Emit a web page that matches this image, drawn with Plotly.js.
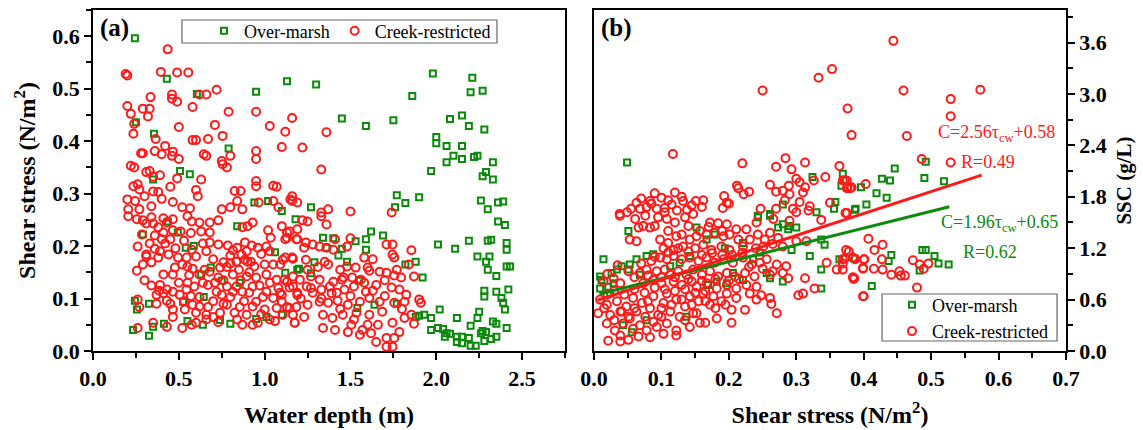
<!DOCTYPE html>
<html>
<head>
<meta charset="utf-8">
<script src="https://cdn.plot.ly/plotly-3.0.1.min.js"></script>
<style>html,body{margin:0;padding:0;background:#fff;}#chart{width:1143px;height:430px;}</style>
</head>
<body>
<div id="chart"></div>
<script>
// ---------------- DATA ----------------
const seriesNames = ["Over-marsh", "Creek-restricted"];

// Panel (a): [water depth (m), shear stress (N/m2)]
const aOverMarsh = [
[0.244,0.596],[0.43,0.519],[0.605,0.49],[0.95,0.494],[1.13,0.514],[0.25,0.436],[0.355,0.414],[0.79,0.386],[0.507,0.343],[0.564,0.337],[0.35,0.327],[0.94,0.283],[1.02,0.286],[1.10,0.267],
[1.30,0.508],[1.98,0.529],[2.21,0.521],[2.20,0.493],[2.27,0.496],[1.86,0.486],[1.45,0.443],[1.59,0.429],[1.75,0.44],[2.08,0.442],[2.15,0.449],[2.19,0.429],[2.28,0.422],[2.00,0.408],[2.00,0.396],[2.06,0.391],[2.15,0.391],[2.10,0.372],[2.06,0.36],[2.15,0.366],[2.22,0.37],[2.24,0.372],[2.33,0.36],[1.97,0.343],[2.29,0.341],[2.27,0.333],[2.33,0.327],[1.77,0.297],[1.90,0.293],[1.82,0.282],[1.76,0.274],[2.26,0.287],[2.30,0.27],[2.36,0.283],[2.39,0.285],[1.27,0.274],
[2.36,0.247],[2.40,0.24],[2.01,0.203],[2.11,0.195],[2.19,0.21],[2.30,0.21],[2.32,0.212],[2.41,0.206],[2.41,0.193],[2.24,0.18],[2.31,0.18],[2.29,0.17],[2.30,0.155],[2.35,0.143],[2.41,0.161],[2.43,0.161],[2.28,0.115],[2.28,0.104],[2.35,0.113],[2.42,0.117],[2.38,0.101],[2.39,0.092],[2.40,0.079],[2.25,0.075],[2.24,0.063],[2.02,0.079],[1.93,0.069],[1.90,0.067],[1.97,0.063],[2.20,0.048],[2.12,0.063],[1.97,0.04],[2.01,0.044],[2.04,0.042],[2.06,0.034],[2.05,0.027],[2.08,0.033],[2.12,0.027],[2.15,0.027],[2.12,0.017],[2.15,0.015],[2.19,0.025],[2.20,0.01],[2.23,0.01],[2.26,0.034],[2.28,0.019],[2.29,0.036],[2.33,0.056],[2.35,0.052],[2.41,0.044],[2.35,0.027],[2.32,0.023],[2.27,0.038],
[1.62,0.228],[1.69,0.22],[1.59,0.213],[1.53,0.209],[1.59,0.193],[1.45,0.195],[1.29,0.169],[1.43,0.182],[1.48,0.17],[1.82,0.165],[1.88,0.17],[1.92,0.14],[1.20,0.157],[1.27,0.148],[1.55,0.134],[1.64,0.088],[1.54,0.082],[1.77,0.09],[1.88,0.065],[1.34,0.216],[1.36,0.197],[1.40,0.215],
[0.244,0.096],[0.256,0.079],[0.233,0.04],[0.326,0.09],[0.326,0.029],[0.35,0.046],[0.413,0.052],[0.525,0.094],[0.54,0.197],[0.587,0.2],[0.494,0.226],[0.436,0.247],[0.29,0.222],[0.55,0.057],[0.645,0.103],[0.686,0.159],[0.63,0.146],[0.74,0.059],[0.80,0.052],[0.855,0.13],[0.75,0.134],[0.95,0.061],[1.01,0.065],[1.06,0.188],[0.84,0.238],[1.18,0.251],[1.12,0.149],[1.10,0.069],[1.19,0.155],[0.64,0.05]
];

const aCreek = [
[0.19,0.528],[0.20,0.525],[0.20,0.467],[0.22,0.452],[0.24,0.433],[0.235,0.414],[0.435,0.575],[0.395,0.532],[0.49,0.531],[0.555,0.531],[0.46,0.489],[0.46,0.481],[0.49,0.475],[0.62,0.489],[0.66,0.489],[0.72,0.498],[0.58,0.465],[0.29,0.462],[0.33,0.462],[0.335,0.484],[0.32,0.447],[0.50,0.427],[0.79,0.456],[0.71,0.431],[0.58,0.402],[0.60,0.402],[0.67,0.404],[0.755,0.41],[0.365,0.404],[0.42,0.391],[0.465,0.38],[0.50,0.366],[0.36,0.381],[0.40,0.375],[0.46,0.372],[0.28,0.377],[0.29,0.377],[0.645,0.375],[0.66,0.372],[0.75,0.362],[0.755,0.356],[0.78,0.35],[0.80,0.372],[0.22,0.353],[0.24,0.35],[0.31,0.341],[0.33,0.343],[0.39,0.335],[0.35,0.332],[0.49,0.329],[0.45,0.313],[0.63,0.327],[0.235,0.314],[0.26,0.318],[0.27,0.308],[0.30,0.295],[0.35,0.304],[0.38,0.303],[0.40,0.29],[0.465,0.284],[0.60,0.307],[0.61,0.295],[0.825,0.305],[0.86,0.305],[0.84,0.286],[0.20,0.289],[0.245,0.286],[0.205,0.27],[0.27,0.27],[0.34,0.276],[0.52,0.274],[0.565,0.272],[0.75,0.27],[0.80,0.274],[0.87,0.27],[0.95,0.381],[0.95,0.366],[0.95,0.324],[0.95,0.314],[1.03,0.429],[1.10,0.389],[1.12,0.418],[1.16,0.444],[1.05,0.315],[1.07,0.313],[1.05,0.286],[1.08,0.274],[1.16,0.295],[1.16,0.286],[1.19,0.283],[0.95,0.456],[0.965,0.283],
[1.22,0.388],[1.36,0.417],[1.33,0.346],[1.15,0.289],[1.33,0.264],[1.37,0.27],[1.50,0.266],[1.74,0.264],
[0.205,0.257],[0.255,0.251],[0.29,0.249],[0.34,0.255],[0.41,0.253],[0.43,0.245],[0.465,0.251],[0.35,0.243],[0.31,0.243],[0.55,0.257],[0.575,0.247],[0.62,0.245],[0.68,0.245],[0.73,0.249],[0.51,0.228],[0.41,0.226],[0.40,0.213],[0.45,0.213],[0.465,0.23],[0.285,0.222],[0.63,0.228],[0.68,0.226],[0.64,0.205],[0.68,0.207],[0.73,0.203],[0.785,0.201],[0.84,0.197],[0.865,0.184],[0.895,0.19],[0.885,0.207],[0.815,0.192],[0.80,0.182],[0.925,0.201],[0.96,0.197],[1.01,0.199],[1.02,0.23],[1.035,0.216],[1.12,0.213],[1.13,0.226],[1.19,0.213],[1.165,0.176],[1.105,0.174],[1.09,0.165],[1.05,0.165],[1.0,0.165],[0.94,0.161],[0.90,0.17],[0.885,0.174],[0.835,0.17],[0.80,0.167],[0.76,0.169],[0.74,0.159],[0.68,0.151],[0.65,0.155],[0.62,0.146],[0.58,0.157],[0.55,0.161],[0.52,0.165],[0.495,0.178],[0.44,0.184],[0.39,0.19],[0.38,0.178],[0.34,0.169],[0.29,0.165],[0.255,0.153],[0.26,0.199],[0.31,0.184],[0.31,0.18],[0.41,0.146],[0.465,0.146],[0.39,0.126],[0.385,0.115],[0.37,0.107],[0.43,0.117],[0.465,0.113],[0.505,0.107],[0.43,0.096],[0.45,0.09],[0.465,0.079],[0.465,0.065],[0.43,0.046],[0.35,0.054],[0.26,0.044],[0.26,0.098],[0.27,0.084],[0.52,0.044],[0.575,0.05],[0.60,0.054],[0.535,0.079],[0.58,0.088],[0.60,0.073],[0.67,0.084],[0.66,0.069],[0.70,0.065],[0.74,0.073],[0.78,0.088],[0.825,0.073],[0.855,0.084],[0.895,0.069],[0.93,0.05],[0.87,0.05],[0.96,0.054],[0.545,0.117],[0.55,0.13],[0.59,0.123],[0.62,0.103],[0.64,0.13],[0.67,0.126],[0.72,0.113],[0.75,0.107],[0.78,0.123],[0.80,0.103],[0.815,0.113],[0.835,0.123],[0.87,0.113],[0.91,0.111],[0.93,0.123],[0.95,0.094],[0.99,0.103],[1.01,0.113],[1.05,0.101],[1.07,0.082],[1.09,0.111],[1.10,0.094],[1.145,0.082],[1.175,0.054],[1.06,0.057],[1.0,0.079],[0.73,0.14],[0.815,0.146],[0.895,0.142],[0.95,0.14],[1.01,0.146],[1.07,0.136],[1.13,0.132],[1.165,0.123],[1.19,0.107],[0.575,0.193],[0.545,0.178],[0.477,0.159],[0.90,0.238],[0.93,0.245],[0.87,0.236],[1.19,0.232],
[1.10,0.238],[1.145,0.228],[1.13,0.216],[1.185,0.213],[1.25,0.247],[1.22,0.249],[1.33,0.257],[1.36,0.241],[1.24,0.207],[1.28,0.203],[1.23,0.197],[1.32,0.199],[1.36,0.197],[1.41,0.213],[1.50,0.215],[1.40,0.193],[1.48,0.199],[1.16,0.178],[1.12,0.178],[1.24,0.174],[1.35,0.17],[1.37,0.165],[1.48,0.161],[1.53,0.159],[1.60,0.159],[1.58,0.178],[1.71,0.203],[1.745,0.203],[1.855,0.192],[1.745,0.184],[1.755,0.178],[1.84,0.165],[1.61,0.153],[1.67,0.151],[1.71,0.149],[1.755,0.144],[1.795,0.14],[1.87,0.142],[1.51,0.14],[1.56,0.136],[1.45,0.136],[1.40,0.132],[1.32,0.136],[1.27,0.142],[1.205,0.136],[1.165,0.142],[1.115,0.136],[1.10,0.107],[1.145,0.121],[1.19,0.111],[1.245,0.123],[1.28,0.111],[1.33,0.117],[1.38,0.123],[1.42,0.111],[1.465,0.117],[1.52,0.123],[1.59,0.113],[1.65,0.126],[1.74,0.121],[1.785,0.117],[1.825,0.107],[1.90,0.098],[1.91,0.092],[1.815,0.094],[1.755,0.092],[1.67,0.094],[1.61,0.101],[1.555,0.094],[1.485,0.088],[1.425,0.096],[1.37,0.092],[1.32,0.094],[1.25,0.088],[1.185,0.084],[1.13,0.084],[1.105,0.069],[1.165,0.069],[1.23,0.065],[1.34,0.069],[1.395,0.063],[1.455,0.069],[1.535,0.073],[1.61,0.069],[1.685,0.075],[1.745,0.054],[1.815,0.063],[1.87,0.052],[1.855,0.069],[1.175,0.054],[1.34,0.044],[1.41,0.04],[1.485,0.036],[1.555,0.031],[1.62,0.034],[1.65,0.017],[1.71,0.025],[1.755,0.025],[1.71,0.008],[1.745,0.008],[1.785,0.036],[1.505,0.05],[1.60,0.05],[1.57,0.04],
[0.36,0.22],[0.38,0.236],[0.33,0.205],[0.36,0.195],[0.42,0.205],[0.48,0.196],[0.53,0.21],[0.57,0.225],[0.60,0.18],[0.66,0.19],[0.70,0.175],[0.78,0.16],[0.85,0.155],[0.92,0.17],[0.98,0.185],[1.03,0.19],[0.71,0.13],[0.76,0.135],[0.86,0.135],[0.91,0.15],[0.97,0.125],[1.03,0.13],[1.08,0.12],[0.56,0.145],[0.50,0.13],[0.53,0.095],[0.57,0.105],[0.62,0.085],[0.70,0.095],[0.76,0.09],[0.88,0.095],[0.93,0.085],[0.98,0.07],[1.03,0.06],[0.84,0.06],[0.73,0.055],[0.66,0.06],[0.30,0.135],[0.34,0.125],[0.41,0.11],[0.37,0.09],[1.25,0.155],[1.31,0.16],[1.44,0.155],[1.50,0.105],[1.58,0.13],[1.63,0.115],[1.70,0.135],[1.70,0.105],[1.77,0.155],[1.63,0.175],[1.44,0.08],[1.52,0.06],[1.66,0.05],[1.80,0.08],[1.27,0.12],[1.21,0.1],[1.33,0.1],[1.39,0.11],[1.46,0.14]
];

// Panel (b): [shear stress (N/m2), SSC (g/L)]
const bOverMarsh = [
[0.049,2.2],[0.324,2.03],[0.369,2.07],[0.367,1.93],[0.396,1.91],[0.358,1.74],[0.356,1.66],[0.388,1.66],[0.404,1.71],[0.28,1.71],[0.261,1.6],[0.33,1.62],[0.243,1.58],
[0.492,2.21],[0.446,2.13],[0.427,2.01],[0.439,1.99],[0.49,2.02],[0.519,1.98],[0.419,1.84],[0.434,1.79],[0.387,1.65],
[0.487,1.18],[0.492,1.18],[0.505,1.11],[0.511,1.02],[0.526,1.01],[0.441,1.12],[0.437,1.05],[0.483,0.94],[0.412,0.76],[0.387,1.08],
[0.051,1.40],[0.014,1.07],[0.009,0.87],[0.009,0.73],[0.021,0.75],[0.026,0.91],[0.034,0.95],[0.041,0.99],[0.051,0.95],[0.053,1.01],[0.063,1.07],[0.068,0.89],[0.078,1.11],[0.088,1.13],[0.029,0.79],[0.011,0.83],[0.152,1.44],[0.167,1.30],[0.179,1.36],[0.194,1.20],[0.221,1.26],[0.236,1.07],[0.246,1.15],[0.243,1.56],[0.261,1.58],[0.273,1.44],[0.28,1.48],[0.288,1.42],[0.29,1.46],[0.30,1.44],[0.293,1.18],[0.32,1.11],[0.337,1.30],[0.342,1.24],[0.364,1.07],[0.337,0.95],[0.261,0.85],[0.28,0.81],[0.256,0.91],[0.221,0.83],[0.206,0.91],[0.197,0.79],[0.182,0.81],[0.169,0.77],[0.337,0.73],[0.056,0.22],[0.043,0.30],[0.137,0.40],[0.078,0.36],[0.024,0.67],[0.127,1.03],[0.113,0.99],[0.142,1.11]
];

const bCreek = [
[0.25,3.04],[0.333,3.19],[0.353,3.29],[0.376,2.83],[0.382,2.52],[0.117,2.30],[0.22,2.19],[0.27,2.15],[0.284,2.25],[0.293,2.12],[0.313,2.20],[0.364,2.16],[0.343,2.03],[0.326,1.99],[0.30,2.01],[0.305,1.97],[0.313,1.91],[0.31,1.85],[0.289,1.93],[0.28,1.87],[0.29,1.83],[0.283,1.76],[0.261,1.94],[0.27,1.86],[0.305,1.74],[0.212,1.93],[0.214,1.9],[0.23,1.86],[0.222,1.83],[0.193,1.81],[0.197,1.73],[0.20,1.72],[0.191,1.67],[0.247,1.66],[0.27,1.66],[0.295,1.66],[0.30,1.62],[0.32,1.69],[0.318,1.64],[0.35,1.73],[0.375,1.99],[0.375,1.9],[0.38,1.9],[0.403,1.95],[0.373,1.61],
[0.063,1.73],[0.083,1.75],[0.10,1.79],[0.11,1.76],[0.12,1.85],[0.132,1.75],[0.151,1.75],[0.162,1.76],[0.068,1.66],[0.078,1.68],[0.093,1.66],[0.105,1.67],[0.115,1.71],[0.123,1.64],[0.138,1.65],[0.038,1.6],[0.049,1.62],[0.147,1.6],
[0.444,3.62],[0.459,3.04],[0.573,3.05],[0.529,2.94],[0.529,2.74],[0.464,2.51],[0.486,2.24],[0.529,2.2],[0.369,1.99],[0.372,1.99],[0.376,1.91],[0.382,1.91],[0.375,1.61],
[0.407,1.31],[0.416,1.18],[0.428,1.24],[0.378,1.16],[0.387,1.07],[0.372,1.08],[0.369,1.02],[0.369,0.95],[0.40,1.07],[0.399,0.96],[0.384,0.86],[0.385,0.84],[0.415,0.96],[0.427,1.07],[0.428,0.95],[0.441,0.89],[0.453,0.93],[0.455,0.88],[0.461,0.88],[0.473,1.06],[0.483,1.01],[0.489,0.96],[0.496,1.02],[0.479,0.74],[0.40,0.64],
[0.0385,1.58],[0.061,1.54],[0.076,1.58],[0.095,1.56],[0.108,1.54],[0.135,1.56],[0.172,1.50],[0.184,1.49],[0.197,1.48],[0.211,1.42],[0.226,1.42],[0.241,1.50],[0.266,1.54],[0.29,1.52],[0.337,1.53],[0.073,1.46],[0.083,1.44],[0.066,1.44],
[0.053,1.30],[0.063,1.28],[0.098,1.30],[0.11,1.26],[0.122,1.34],[0.13,1.36],[0.142,1.30],[0.152,1.34],[0.157,1.40],[0.167,1.36],[0.179,1.38],[0.192,1.34],[0.201,1.36],[0.214,1.30],[0.221,1.22],[0.231,1.30],[0.243,1.36],[0.253,1.30],[0.261,1.38],[0.273,1.32],[0.251,1.22],[0.103,1.20],[0.118,1.18],[0.132,1.22],[0.15,1.20],[0.162,1.24],[0.174,1.18],[0.189,1.22],[0.201,1.18],[0.30,1.28],[0.315,1.28],
[0.085,1.05],[0.098,1.09],[0.108,1.07],[0.118,1.11],[0.13,1.07],[0.142,1.09],[0.155,1.05],[0.167,1.09],[0.179,1.03],[0.192,1.07],[0.206,1.03],[0.221,1.09],[0.234,1.01],[0.246,1.03],[0.256,1.07],[0.271,1.01],[0.285,0.99],[0.051,0.93],[0.068,0.91],[0.078,0.95],[0.093,0.93],[0.105,0.95],[0.113,0.89],[0.125,0.93],[0.137,0.89],[0.147,0.95],[0.16,0.89],[0.172,0.93],[0.184,0.87],[0.197,0.91],[0.209,0.87],[0.224,0.91],[0.238,0.87],[0.261,0.89],[0.28,0.91],[0.288,0.85],[0.313,0.85],[0.345,1.03],[0.36,0.95],[0.374,1.18],[0.384,1.09],[0.399,0.97],[0.401,1.07],[0.386,0.85],[0.399,0.64],[0.369,1.07],
[0.014,0.81],[0.029,0.85],[0.039,0.79],[0.073,0.79],[0.088,0.83],[0.10,0.79],[0.118,0.81],[0.13,0.77],[0.145,0.81],[0.152,0.75],[0.167,0.79],[0.182,0.73],[0.197,0.77],[0.211,0.73],[0.226,0.77],[0.241,0.75],[0.327,0.73],[0.31,0.67],[0.303,0.65],
[0.009,0.60],[0.006,0.44],[0.019,0.54],[0.024,0.42],[0.034,0.58],[0.039,0.46],[0.048,0.52],[0.051,0.40],[0.058,0.62],[0.063,0.46],[0.071,0.56],[0.076,0.40],[0.083,0.50],[0.088,0.64],[0.095,0.42],[0.103,0.56],[0.108,0.67],[0.113,0.46],[0.122,0.60],[0.127,0.40],[0.135,0.52],[0.142,0.64],[0.147,0.44],[0.155,0.58],[0.162,0.67],[0.172,0.54],[0.177,0.64],[0.189,0.58],[0.197,0.67],[0.204,0.48],[0.211,0.62],[0.224,0.48],[0.231,0.67],[0.241,0.60],[0.248,0.65],[0.261,0.62],[0.263,0.55],[0.271,0.44],[0.182,0.38],[0.165,0.33],[0.157,0.33],[0.204,0.33],[0.041,0.46],[0.053,0.38],[0.068,0.30],[0.078,0.24],[0.093,0.28],[0.108,0.32],[0.122,0.24],[0.142,0.28],[0.021,0.12],[0.039,0.11],[0.039,0.18],[0.051,0.13],[0.066,0.17],[0.083,0.16],[0.103,0.20],[0.122,0.18],[0.031,0.24],[0.019,0.32],[0.043,0.32],[0.058,0.26],[0.088,0.34],[0.10,0.40],[0.135,0.36],[0.152,0.44],
[0.03,0.70],[0.045,0.66],[0.06,0.72],[0.075,0.68],[0.09,0.74],[0.105,0.72],[0.12,0.70],[0.135,0.72],[0.15,0.68],[0.165,0.70],[0.02,0.66],[0.015,0.50],[0.03,0.36],[0.06,0.50],[0.08,0.58],[0.10,0.50],[0.115,0.54],[0.13,0.60],[0.145,0.54],[0.165,0.58],[0.18,0.50],[0.195,0.54],[0.07,1.02],[0.09,1.10],[0.11,1.15],[0.125,1.20],[0.14,1.16],[0.16,1.12],[0.175,1.14],[0.19,1.12],[0.205,1.12],[0.22,1.15],[0.06,0.86],[0.08,0.88],[0.10,0.86],[0.12,0.86],[0.14,0.84],[0.16,0.82],[0.18,0.84],[0.20,0.82],[0.215,0.84],[0.23,0.98],[0.25,0.96],[0.265,0.93],[0.24,1.2],[0.265,1.25],[0.28,1.22],[0.055,1.66],[0.085,1.72],[0.105,1.62],[0.13,1.8],[0.145,1.7],[0.09,1.84],[0.07,1.78],[0.16,1.68],[0.11,1.4],[0.09,1.46],[0.14,1.46],[0.12,1.5],[0.17,1.45],[0.19,1.40],[0.035,1.0],[0.02,0.9]
];

// Linear fits (SSC = slope * tau + intercept) and the x-range over which they are drawn
const fitLabels = ["C=1.96τ<sub>cw</sub>+0.65", "C=2.56τ<sub>cw</sub>+0.58"];
const fitR = ["R=0.62", "R=0.49"];
const fitSlope = [1.96, 2.56];
const fitIntercept = [0.65, 0.58];
const fitXRange = [[0.008, 0.527], [0.005, 0.575]];

// Axis tick values
const aXTicks = [0.0, 0.5, 1.0, 1.5, 2.0, 2.5];
const aYTicks = [0.0, 0.1, 0.2, 0.3, 0.4, 0.5, 0.6];
const bXTicks = [0.0, 0.1, 0.2, 0.3, 0.4, 0.5, 0.6, 0.7];
const bYTicks = [0.0, 0.6, 1.2, 1.8, 2.4, 3.0, 3.6];

// ---------------- STYLE ----------------
const GREEN = '#0b8a0b';
const RED = '#ff1a1a';
const FONT = 'Liberation Serif, Times New Roman, serif';
const xs = a => a.map(p => p[0]);
const ys = a => a.map(p => p[1]);

const greenMarker = {symbol: 'square-open', size: 6, color: GREEN, line: {width: 2, color: GREEN}};
const redMarker = {symbol: 'circle-open', size: 8, color: RED, line: {width: 2, color: RED}};

const traces = [
  {x: xs(aOverMarsh), y: ys(aOverMarsh), xaxis: 'x', yaxis: 'y', type: 'scatter', mode: 'markers', name: seriesNames[0], marker: greenMarker, legend: 'legend'},
  {x: xs(aCreek), y: ys(aCreek), xaxis: 'x', yaxis: 'y', type: 'scatter', mode: 'markers', name: seriesNames[1], marker: redMarker, legend: 'legend'},
  {x: xs(bOverMarsh), y: ys(bOverMarsh), xaxis: 'x2', yaxis: 'y2', type: 'scatter', mode: 'markers', name: seriesNames[0], marker: greenMarker, legend: 'legend2'},
  {x: xs(bCreek), y: ys(bCreek), xaxis: 'x2', yaxis: 'y2', type: 'scatter', mode: 'markers', name: seriesNames[1], marker: redMarker, legend: 'legend2'}
];
[GREEN, RED].forEach((c, i) => {
  const fx = fitXRange[i];
  traces.push({x: fx, y: fx.map(v => fitSlope[i] * v + fitIntercept[i]), xaxis: 'x2', yaxis: 'y2', type: 'scatter', mode: 'lines', line: {color: c, width: 3}, showlegend: false, hoverinfo: 'skip'});
});

const tickFont = {family: FONT, size: 22, color: '#000', weight: 'bold'};
const titleFont = {family: FONT, size: 24, color: '#000', weight: 'bold'};
function axis(extra) {
  return Object.assign({
    showline: true, linecolor: '#000', linewidth: 2, mirror: true,
    ticks: 'outside', ticklen: 7, tickwidth: 2, tickcolor: '#000',
    showgrid: false, zeroline: false, tickfont: tickFont, tickformat: '.1f',
    tickmode: 'array', automargin: false, fixedrange: true
  }, extra);
}

const annotations = [
  {xref: 'x domain', yref: 'y domain', x: 0.011, y: 0.947, xanchor: 'left', yanchor: 'middle', text: '<b>(a)</b>', showarrow: false, font: {family: FONT, size: 25, color: '#000'}},
  {xref: 'x2 domain', yref: 'y2 domain', x: 0.011, y: 0.947, xanchor: 'left', yanchor: 'middle', text: '<b>(b)</b>', showarrow: false, font: {family: FONT, size: 25, color: '#000'}},
  {xref: 'x2', yref: 'y2', x: 0.597, y: 2.54, text: fitLabels[1], showarrow: false, font: {family: FONT, size: 18, color: RED}},
  {xref: 'x2', yref: 'y2', x: 0.584, y: 2.21, text: fitR[1], showarrow: false, font: {family: FONT, size: 18, color: RED}},
  {xref: 'x2', yref: 'y2', x: 0.601, y: 1.49, text: fitLabels[0], showarrow: false, font: {family: FONT, size: 18, color: GREEN}},
  {xref: 'x2', yref: 'y2', x: 0.588, y: 1.16, text: fitR[0], showarrow: false, font: {family: FONT, size: 18, color: GREEN}}
];

// legend frames (drawn as shapes so their padding can match the original)
const legendBox = {type: 'rect', xref: 'paper', yref: 'paper', line: {color: '#666', width: 1.2}, fillcolor: '#fff', layer: 'above'};
const shapes = [
  Object.assign({x0: 0.1592, x1: 0.4348, y0: 0.9032, y1: 0.9707}, legendBox),
  Object.assign({x0: 0.7717, x1: 0.9248, y0: 0.0293, y1: 0.1672}, legendBox)
];

const layout = {
  width: 1143, height: 430,
  margin: {l: 0, r: 0, t: 10, b: 79},
  paper_bgcolor: '#fff', plot_bgcolor: '#fff',
  font: {family: FONT, color: '#000'},
  xaxis: axis({domain: [0.0814, 0.4943], range: [0, 2.75], anchor: 'y', tickvals: aXTicks,
    minor: {ticks: 'outside', ticklen: 5, tickwidth: 2, tickcolor: '#000', dtick: 0.25, tick0: 0, showgrid: false},
    title: {text: 'Water depth (m)', font: titleFont, standoff: 16}}),
  yaxis: axis({domain: [0, 1], range: [0, 0.65], anchor: 'x', tickvals: aYTicks,
    minor: {ticks: 'outside', ticklen: 5, tickwidth: 2, tickcolor: '#000', dtick: 0.05, tick0: 0, showgrid: false},
    title: {text: 'Shear stress (N/m<sup>2</sup>)', font: titleFont, standoff: 10}}),
  xaxis2: axis({domain: [0.5197, 0.9326], range: [0, 0.7], anchor: 'y2', tickvals: bXTicks,
    minor: {ticks: 'outside', ticklen: 5, tickwidth: 2, tickcolor: '#000', dtick: 0.05, tick0: 0, showgrid: false},
    title: {text: 'Shear stress (N/m<sup>2</sup>)', font: titleFont, standoff: 16}}),
  yaxis2: axis({domain: [0, 1], range: [0, 3.98], anchor: 'x2', side: 'right', tickvals: bYTicks,
    minor: {ticks: 'outside', ticklen: 5, tickwidth: 2, tickcolor: '#000', dtick: 0.3, tick0: 0, showgrid: false},
    title: {text: 'SSC (g/L)', font: {family: FONT, size: 21, color: '#000', weight: 'bold'}, standoff: 10}}),
  legend: {orientation: 'h', x: 0.1785, y: 0.9384, xanchor: 'left', yanchor: 'middle',
    bgcolor: 'rgba(0,0,0,0)', borderwidth: 0, font: {family: FONT, size: 18, color: '#000'},
    itemclick: false, itemdoubleclick: false},
  legend2: {orientation: 'v', x: 0.7804, y: 0.0968, xanchor: 'left', yanchor: 'middle',
    bgcolor: 'rgba(0,0,0,0)', borderwidth: 0, font: {family: FONT, size: 18, color: '#000'},
    itemclick: false, itemdoubleclick: false, tracegroupgap: 0},
  shapes: shapes,
  annotations: annotations,
  showlegend: true
};

Plotly.newPlot('chart', traces, layout, {displayModeBar: false, staticPlot: true});
</script>
</body>
</html>
